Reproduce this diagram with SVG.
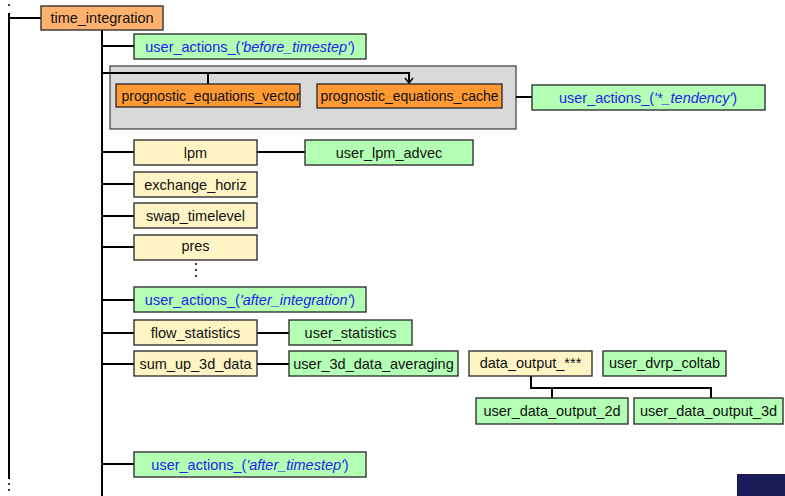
<svg xmlns="http://www.w3.org/2000/svg" width="785" height="496" viewBox="0 0 785 496">
<style>
.b{stroke:#333;stroke-width:1.4}
.o1{fill:#FFB26E}
.o2{fill:#FF9933}
.g{fill:#B3FFB3}
.y{fill:#FFF5C4}
.t{font-family:"Liberation Sans",Arial,sans-serif;font-size:14.5px;fill:#111;text-anchor:middle;dominant-baseline:central}
.s{font-size:14px}
.u{fill:#2222EE}
.c{stroke:#000;stroke-width:2;fill:none}
</style>
<defs>
<marker id="ah" markerWidth="10" markerHeight="10" refX="5" refY="7" orient="0" markerUnits="userSpaceOnUse">
<path d="M1,2 L5,7 L9,2" fill="none" stroke="#000" stroke-width="1.5"/>
</marker>
</defs>
<rect width="785" height="496" fill="#fff"/>
<g id="prog_group"><rect x="110" y="66" width="406" height="63" fill="#D9D9D9" stroke="#555" stroke-width="1.4"/></g>
<g id="connectors">
<line class="c" x1="9" y1="13" x2="9" y2="479"/>
<circle cx="9" cy="5" r="1" fill="#000"/>
<circle cx="9" cy="484" r="1" fill="#000"/>
<circle cx="9" cy="490" r="1" fill="#000"/>
<line class="c" x1="9" y1="18" x2="41" y2="18"/>
<line class="c" x1="102" y1="30" x2="102" y2="496"/>
<line class="c" x1="102" y1="46" x2="134" y2="46"/>
<path class="c" d="M102,73 H409 V83" marker-end="url(#ah)"/>
<line class="c" x1="208" y1="73" x2="208" y2="84"/>
<line class="c" x1="516" y1="97" x2="532" y2="97"/>
<line class="c" x1="102" y1="152" x2="134" y2="152"/>
<line class="c" x1="257" y1="152" x2="305" y2="152"/>
<line class="c" x1="102" y1="184" x2="134" y2="184"/>
<line class="c" x1="102" y1="216" x2="134" y2="216"/>
<line class="c" x1="102" y1="247" x2="134" y2="247"/>
<line class="c" x1="102" y1="300" x2="134" y2="300"/>
<line class="c" x1="102" y1="333" x2="134" y2="333"/>
<line class="c" x1="257" y1="333" x2="289" y2="333"/>
<line class="c" x1="102" y1="364" x2="134" y2="364"/>
<line class="c" x1="257" y1="364" x2="289" y2="364"/>
<line class="c" x1="102" y1="464" x2="134" y2="464"/>
<path class="c" d="M531,376 V388 H711 V398 M552,388 V398"/>
</g>
<g id="dots">
<circle cx="196" cy="264" r="1" fill="#000"/>
<circle cx="196" cy="270" r="1" fill="#000"/>
<circle cx="196" cy="276" r="1" fill="#000"/>
</g>
<g id="time_integration"><rect class="b o1" x="41" y="6" width="122" height="24"/><text class="t" x="102" y="18">time_integration</text></g>
<g id="ua_before"><rect class="b g" x="134" y="34" width="232" height="25"/><text class="t u" x="250" y="46.5">user_actions_(<tspan font-style="italic">'before_timestep'</tspan>)</text></g>
<g id="pev"><rect class="b o2" x="116" y="84" width="184" height="23"/><text class="t s" x="211" y="95.5">prognostic_equations_vector</text></g>
<g id="pec"><rect class="b o2" x="317" y="84" width="185" height="24"/><text class="t s" x="409.5" y="96">prognostic_equations_cache</text></g>
<g id="ua_tend"><rect class="b g" x="532" y="85" width="233" height="25"/><text class="t u" x="648" y="97.5">user_actions_(<tspan font-style="italic">'*_tendency'</tspan>)</text></g>
<g id="lpm"><rect class="b y" x="134" y="140" width="123" height="25"/><text class="t" x="195.5" y="152.5">lpm</text></g>
<g id="user_lpm_advec"><rect class="b g" x="305" y="140" width="168" height="25"/><text class="t" x="389" y="152.5">user_lpm_advec</text></g>
<g id="exchange_horiz"><rect class="b y" x="134" y="172" width="123" height="25"/><text class="t" x="195.5" y="184.5">exchange_horiz</text></g>
<g id="swap_timelevel"><rect class="b y" x="134" y="203" width="123" height="25"/><text class="t" x="195.5" y="215.5">swap_timelevel</text></g>
<g id="pres"><rect class="b y" x="134" y="235" width="123" height="25"/><text class="t" x="195.5" y="246">pres</text></g>
<g id="ua_after_int"><rect class="b g" x="134" y="287" width="232" height="25"/><text class="t u" x="250" y="299.5">user_actions_(<tspan font-style="italic">'after_integration'</tspan>)</text></g>
<g id="flow_statistics"><rect class="b y" x="134" y="320" width="123" height="25"/><text class="t" x="195.5" y="332.5">flow_statistics</text></g>
<g id="user_statistics"><rect class="b g" x="289" y="320" width="123" height="25"/><text class="t" x="350.5" y="332.5">user_statistics</text></g>
<g id="sum_up_3d_data"><rect class="b y" x="134" y="351" width="123" height="25"/><text class="t" x="195.5" y="363.5">sum_up_3d_data</text></g>
<g id="user_3d_data_averaging"><rect class="b g" x="289" y="351" width="169" height="25"/><text class="t" x="373.5" y="363.5">user_3d_data_averaging</text></g>
<g id="data_output"><rect class="b y" x="469" y="351" width="123" height="25"/><text class="t" x="530.5" y="363">data_output_***</text></g>
<g id="user_dvrp_coltab"><rect class="b g" x="603" y="351" width="123" height="25"/><text class="t" x="664.5" y="363">user_dvrp_coltab</text></g>
<g id="udo2d"><rect class="b g" x="476" y="398" width="152" height="26"/><text class="t" x="552" y="410.5">user_data_output_2d</text></g>
<g id="udo3d"><rect class="b g" x="634" y="398" width="149" height="26"/><text class="t" x="708.5" y="410.5">user_data_output_3d</text></g>
<g id="ua_after_ts"><rect class="b g" x="134" y="452" width="232" height="25"/><text class="t u" x="250" y="464.5">user_actions_(<tspan font-style="italic">'after_timestep'</tspan>)</text></g>
<rect x="737" y="474" width="48" height="22" fill="#1B1B5A"/>
</svg>
